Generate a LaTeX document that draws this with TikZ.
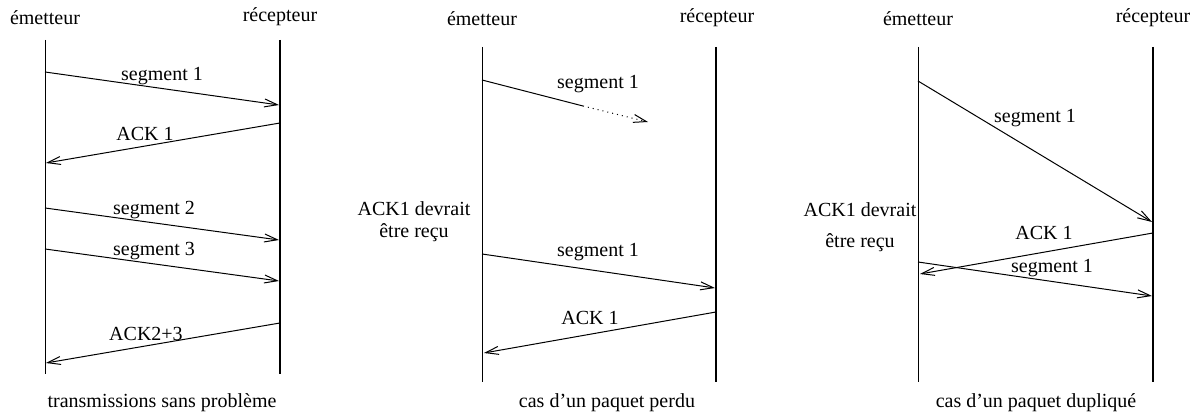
\documentclass[tikz,border=0pt]{standalone}
\usepackage{fontspec}
\setmainfont{Liberation Serif}
\usetikzlibrary{positioning,arrows.meta}

\begin{document}
\begin{tikzpicture}[x=0.5pt,y=-0.5pt,
    sender/.style={line width=0.5pt},
    receiver/.style={line width=0.8pt},
    msg/.style={line width=0.5pt,-{Straight Barb[length=6.5pt,width=4pt]}},
    lbl/.style={inner sep=1pt}]
  \useasboundingbox (0,0) rectangle (1196,415);
  % transmissions sans probleme
  \node (em1) at (45,18) {émetteur};
  \node (rc1) at (280,17) {récepteur};
  \coordinate (em1t) at (45,40);  \coordinate (em1b) at (45,374);
  \coordinate (rc1t) at (280,40); \coordinate (rc1b) at (280,374);
  \draw[sender] (em1t) -- (em1b);
  \draw[receiver] (rc1t) -- (rc1b);
  \coordinate (a1) at (45,72);   \coordinate (b1) at (279,105);
  \coordinate (a2) at (280,123); \coordinate (b2) at (46,163);
  \coordinate (a3) at (45,208);  \coordinate (b3) at (279,240);
  \coordinate (a4) at (45,249);  \coordinate (b4) at (279,281);
  \coordinate (a5) at (280,323); \coordinate (b5) at (46,363);
  \draw[msg] (a1) -- (b1);
  \draw[msg] (a2) -- (b2);
  \draw[msg] (a3) -- (b3);
  \draw[msg] (a4) -- (b4);
  \draw[msg] (a5) -- (b5);
  \node[lbl] (s1) at (162,76) {segment 1};
  \node[lbl] (k1) at (145,134) {ACK 1};
  \node[lbl] (s2) at (154,210) {segment 2};
  \node[lbl] (s3) at (154,251) {segment 3};
  \node[lbl] (k23) at (146,334) {ACK2+3};
  \node (cap1) at (162,403) {transmissions sans problème};
  % cas d'un paquet perdu
  \node (em2) at (482,19) {émetteur};
  \node (rc2) at (717,18) {récepteur};
  \coordinate (em2t) at (482,47);  \coordinate (em2b) at (482,382);
  \coordinate (rc2t) at (716,47);  \coordinate (rc2b) at (716,382);
  \draw[sender] (em2t) -- (em2b);
  \draw[receiver] (rc2t) -- (rc2b);
  \coordinate (c1) at (482,80);  \coordinate (lost) at (583,106);
  \coordinate (d1) at (648,122);
  \coordinate (c2) at (482,254); \coordinate (d2) at (715,288);
  \coordinate (c3) at (716,312); \coordinate (d3) at (484,353);
  \draw[line width=0.5pt] (c1) -- (lost);
  \draw[msg, dotted] (lost) -- (d1);
  \draw[msg] (c2) -- (d2);
  \draw[msg] (c3) -- (d3);
  \node[lbl] (s4) at (598,84) {segment 1};
  \node[lbl] (w1) at (414,209) {ACK1 devrait};
  \node[lbl] (w2) at (414,233) {être reçu};
  \node[lbl] (s5) at (598,252) {segment 1};
  \node[lbl] (k4) at (590,318) {ACK 1};
  \node (cap2) at (607,403) {cas d’un paquet perdu};
  % cas d'un paquet duplique
  \node (em3) at (918,19) {émetteur};
  \node (rc3) at (1153,18) {récepteur};
  \coordinate (em3t) at (918,47);  \coordinate (em3b) at (918,382);
  \coordinate (rc3t) at (1153,47); \coordinate (rc3b) at (1153,382);
  \draw[sender] (em3t) -- (em3b);
  \draw[receiver] (rc3t) -- (rc3b);
  \coordinate (f1) at (918,81);   \coordinate (g1) at (1152,222);
  \coordinate (f2) at (1153,233); \coordinate (g2) at (920,274);
  \coordinate (f3) at (918,262);  \coordinate (g3) at (1152,296);
  \draw[msg] (f1) -- (g1);
  \draw[msg] (f2) -- (g2);
  \draw[msg] (f3) -- (g3);
  \node[lbl] (s6) at (1035,118) {segment 1};
  \node[lbl] (w3) at (860,210) {ACK1 devrait};
  \node[lbl] (w4) at (860,243) {être reçu};
  \node[lbl] (k5) at (1044,233) {ACK 1};
  \node[lbl] (s7) at (1052,268) {segment 1};
  \node (cap3) at (1036,403) {cas d’un paquet dupliqué};
\end{tikzpicture}
\end{document}
